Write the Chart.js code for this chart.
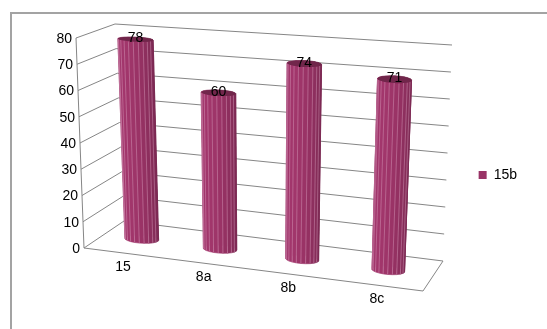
<!DOCTYPE html>
<html>
<head>
<meta charset="utf-8">
<script src="https://cdn.jsdelivr.net/npm/chart.js@4.4.1/dist/chart.umd.min.js"></script>
<style>
  html, body { margin: 0; padding: 0; background: #ffffff; }
  canvas { display: block; }
</style>
</head>
<body>
<canvas id="chart" width="547" height="329"></canvas>
<script>
// ---- data ----
const categories = ['15', '8a', '8b', '8c'];
const seriesName = '15b';
const seriesValues = [78, 60, 74, 71];
const axisMin = 0;
const axisMax = 80;
const axisStep = 10;

// ---- 3-D box geometry (canvas pixels): F/B = front/back, L/R = left/right, B/T = bottom/top ----
const BOX = {
  FLB: [84, 248], FLT: [76, 38],
  BLB: [124, 221], BLT: [115, 24],
  BRB: [443, 261], BRT: [452, 45],
  FRB: [423, 291], FRT: [433, 73]
};
const PERSP = 1.1;        // foreshortening along the category axis
const BAR_DEPTH = 0.5;    // depth position of the cylinder axes (0 front, 1 back)
const RADIUS_S = 0.049;   // cylinder radius across the category axis
const RADIUS_W = 0.13;    // cylinder radius in depth
const BAR_RGB = [153, 51, 102];
const FONT = '14px "Liberation Sans", Arial, sans-serif';
const GRID = '#868686';

const lerp = (a, b, t) => [a[0] + (b[0] - a[0]) * t, a[1] + (b[1] - a[1]) * t];
const persp = u => u / (PERSP - (PERSP - 1) * u);

// s: position along categories (after foreshortening), v: value fraction, w: depth
function projS(s, v, w) {
  const fb = lerp(BOX.FLB, BOX.FRB, s), bb = lerp(BOX.BLB, BOX.BRB, s);
  const ft = lerp(BOX.FLT, BOX.FRT, s), bt = lerp(BOX.BLT, BOX.BRT, s);
  return lerp(lerp(fb, bb, w), lerp(ft, bt, w), v);
}

function shade(rgb, f) {
  return 'rgb(' + rgb.map(c => Math.max(0, Math.min(255, Math.round(c * f)))).join(',') + ')';
}

function line(ctx, p, q) {
  ctx.beginPath();
  ctx.moveTo(p[0], p[1]);
  ctx.lineTo(q[0], q[1]);
  ctx.stroke();
}

function drawCylinder(ctx, sc, wc, vBase, vTop) {
  const N = 22;
  const ring = [];
  for (let k = 0; k < N; k++) {
    const t = 2 * Math.PI * k / N;
    ring.push([sc + RADIUS_S * Math.cos(t), wc + RADIUS_W * Math.sin(t), t]);
  }
  const L = [-0.55, -0.835];
  const facets = [];
  for (let k = 0; k < N; k++) {
    const tm = 2 * Math.PI * (k + 0.5) / N;
    facets.push({ a: ring[k], b: ring[(k + 1) % N], nx: Math.cos(tm), nw: Math.sin(tm) });
  }
  facets.sort((p, q) => q.nw - p.nw);
  facets.forEach(f => {
    const p1 = projS(f.a[0], vBase, f.a[1]), p2 = projS(f.b[0], vBase, f.b[1]);
    const p3 = projS(f.b[0], vTop, f.b[1]), p4 = projS(f.a[0], vTop, f.a[1]);
    const inten = f.nx * L[0] + f.nw * L[1];
    const col = shade(BAR_RGB, 0.9 + 0.16 * inten);
    ctx.fillStyle = col;
    ctx.strokeStyle = col;
    ctx.lineWidth = 0.6;
    ctx.beginPath();
    ctx.moveTo(p1[0], p1[1]); ctx.lineTo(p2[0], p2[1]);
    ctx.lineTo(p3[0], p3[1]); ctx.lineTo(p4[0], p4[1]);
    ctx.closePath();
    ctx.fill();
    ctx.stroke();
  });
  // light seams between the facets
  ctx.strokeStyle = 'rgba(235,190,215,0.5)';
  ctx.lineWidth = 0.7;
  ring.forEach(r => {
    if (Math.sin(r[2]) < -0.15) {
      line(ctx, projS(r[0], vBase, r[1]), projS(r[0], vTop, r[1]));
    }
  });
  // top cap
  ctx.fillStyle = shade(BAR_RGB, 0.74);
  ctx.beginPath();
  ring.forEach((r, i) => {
    const p = projS(r[0], vTop, r[1]);
    if (i === 0) ctx.moveTo(p[0], p[1]); else ctx.lineTo(p[0], p[1]);
  });
  ctx.closePath();
  ctx.fill();
}

const scene3d = {
  id: 'scene3d',
  beforeDraw(chart) {
    const ctx = chart.ctx;
    ctx.save();
    ctx.fillStyle = '#ffffff';
    ctx.fillRect(0, 0, chart.width, chart.height);
    ctx.strokeStyle = '#a3a3a3';
    ctx.lineWidth = 2;
    ctx.strokeRect(11, 13, chart.width + 30, chart.height + 30);
    ctx.restore();
  },
  beforeDatasetsDraw(chart) {
    const { ctx, chartArea: a, scales: { x, y } } = chart;
    const uOf = px => (px - a.left) / (a.right - a.left);
    const vOf = py => (a.bottom - py) / (a.bottom - a.top);
    ctx.save();

    // walls and floor
    ctx.strokeStyle = GRID;
    ctx.lineWidth = 1;
    y.ticks.forEach(t => {
      const v = vOf(y.getPixelForValue(t.value));
      line(ctx, projS(0, v, 0), projS(0, v, 1));
      line(ctx, projS(0, v, 1), projS(1, v, 1));
    });
    line(ctx, projS(0, 0, 0), projS(0, 1, 0));
    line(ctx, projS(0, 0, 0), projS(1, 0, 0));
    line(ctx, projS(1, 0, 0), projS(1, 0, 1));

    // value axis labels
    ctx.font = FONT;
    ctx.fillStyle = '#000000';
    ctx.textAlign = 'right';
    ctx.textBaseline = 'middle';
    y.ticks.forEach(t => {
      const v = vOf(y.getPixelForValue(t.value));
      const p = projS(0, v, 0);
      ctx.fillText(t.label, p[0] - 4, p[1] + 1);
    });

    // category labels
    ctx.textAlign = 'center';
    x.getLabels().forEach((lab, i) => {
      const s = persp(uOf(x.getPixelForValue(i)));
      const p = projS(s, 0, 0);
      ctx.fillText(lab, p[0], p[1] + 14);
    });

    // cylinders and their value labels
    const meta = chart.getDatasetMeta(0);
    const ds = chart.data.datasets[0];
    meta.data.forEach(bar => {
      const s = persp(uOf(bar.x));
      drawCylinder(ctx, s, BAR_DEPTH, vOf(bar.base), vOf(bar.y));
    });
    ctx.fillStyle = '#000000';
    ctx.textAlign = 'center';
    ctx.textBaseline = 'middle';
    meta.data.forEach((bar, i) => {
      const p = projS(persp(uOf(bar.x)), vOf(bar.y), BAR_DEPTH);
      ctx.fillText(String(ds.data[i]), p[0], p[1] - 1);
    });

    ctx.restore();
    return false;
  }
};

new Chart(document.getElementById('chart'), {
  type: 'bar',
  data: {
    labels: categories,
    datasets: [{
      label: seriesName,
      data: seriesValues,
      backgroundColor: '#993366',
      borderWidth: 0
    }]
  },
  options: {
    responsive: false,
    devicePixelRatio: 1,
    animation: false,
    layout: { padding: { top: 21, right: 20, bottom: 0, left: 0 } },
    scales: {
      x: { display: false },
      y: { display: false, min: axisMin, max: axisMax, ticks: { stepSize: axisStep } }
    },
    plugins: {
      tooltip: { enabled: false },
      legend: {
        position: 'right',
        labels: {
          boxWidth: 8,
          boxHeight: 8,
          padding: 10,
          color: '#000000',
          font: { size: 14, family: '"Liberation Sans", Arial, sans-serif' }
        }
      }
    }
  },
  plugins: [scene3d]
});
</script>
</body>
</html>
